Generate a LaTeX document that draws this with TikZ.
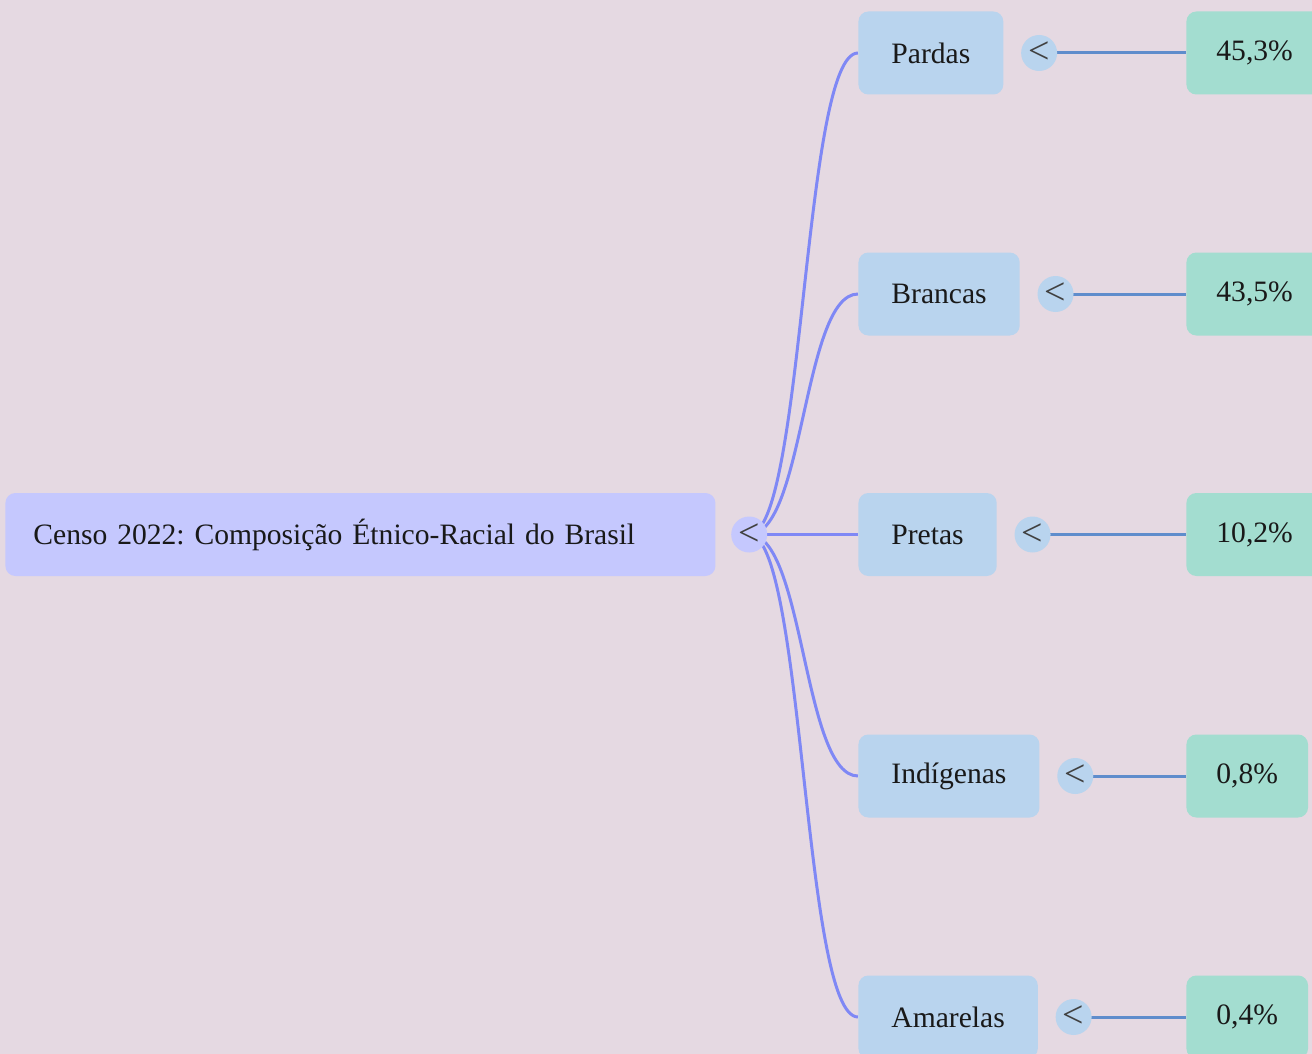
\documentclass[tikz,border=0pt]{standalone}
\usepackage{fontspec}
\setmainfont{Liberation Serif}
\usetikzlibrary{positioning}

\definecolor{canvas}{HTML}{E5D9E2}
\definecolor{rootfill}{HTML}{C5C8FE}
\definecolor{catfill}{HTML}{B9D4EE}
\definecolor{valfill}{HTML}{A3DDD0}
\definecolor{rootline}{HTML}{7F88F5}
\definecolor{catline}{HTML}{5F8DCC}

\pgfdeclarelayer{back}
\pgfdeclarelayer{links}
\pgfsetlayers{back,links,main}

\begin{document}
\frenchspacing
\begin{tikzpicture}[
	x=0.5pt, y=-0.5pt,
	node distance = 0pt and 8.5pt,
	font=\fontsize{14.8}{18}\selectfont,
	box/.style = {
		rectangle, rounded corners=5pt,
		minimum height=41.5pt, anchor=west,
		text=black!90
	},
	rootbox/.style = {box, fill=rootfill, text width=327pt, inner xsep=14pt, align=left},
	catbox/.style = {box, fill=catfill, inner xsep=16.5pt},
	valbox/.style = {box, fill=valfill, inner xsep=15pt},
	toggle/.style args = {#1}{
		circle, fill=#1,
		minimum size=18pt, inner sep=0pt,
		font=\fontsize{19}{19}\selectfont,
		text=black!75
	},
	link/.style args = {#1}{draw=#1, line width=1.5pt}
]

	\useasboundingbox (0,0) rectangle (1312,1054);
	\begin{pgfonlayer}{back}
		\fill [canvas] (0,0) rectangle (1312,1054);
	\end{pgfonlayer}
	\clip (0,0) rectangle (1312,1054);

	\node (n0) [rootbox] at (5,534.5) {Censo 2022: Composição Étnico-Racial do Brasil};
		\node (n0B) [toggle=rootfill, right=7.5pt of n0] {<};

	\node (n1) [catbox] at (858,53) {Pardas};
		\node (n1B) [toggle=catfill, right=of n1] {<};
		\node (n1C) [valbox] at (1186,53) {45,3\%};

	\node (n2) [catbox] at (858,294) {Brancas};
		\node (n2B) [toggle=catfill, right=of n2] {<};
		\node (n2C) [valbox] at (1186,294) {43,5\%};

	\node (n3) [catbox] at (858,534.5) {Pretas};
		\node (n3B) [toggle=catfill, right=of n3] {<};
		\node (n3C) [valbox] at (1186,534.5) {10,2\%};

	\node (n4) [catbox] at (858,776) {Indígenas};
		\node (n4B) [toggle=catfill, right=of n4] {<};
		\node (n4C) [valbox] at (1186,776) {0,8\%};

	\node (n5) [catbox] at (858,1017) {Amarelas};
		\node (n5B) [toggle=catfill, right=of n5] {<};
		\node (n5C) [valbox] at (1186,1017) {0,4\%};

	\begin{pgfonlayer}{links}
		\draw [link=rootline] (n0B.center) .. controls +(55,0) and +(-55,0) .. (n1.west);
		\draw [link=rootline] (n0B.center) .. controls +(55,0) and +(-55,0) .. (n2.west);
		\draw [link=rootline] (n0B.center) -- (n3.west);
		\draw [link=rootline] (n0B.center) .. controls +(55,0) and +(-55,0) .. (n4.west);
		\draw [link=rootline] (n0B.center) .. controls +(55,0) and +(-55,0) .. (n5.west);

		\draw [link=catline] (n1B.center) -- (n1C.west);
		\draw [link=catline] (n2B.center) -- (n2C.west);
		\draw [link=catline] (n3B.center) -- (n3C.west);
		\draw [link=catline] (n4B.center) -- (n4C.west);
		\draw [link=catline] (n5B.center) -- (n5C.west);
	\end{pgfonlayer}
\end{tikzpicture}
\end{document}
